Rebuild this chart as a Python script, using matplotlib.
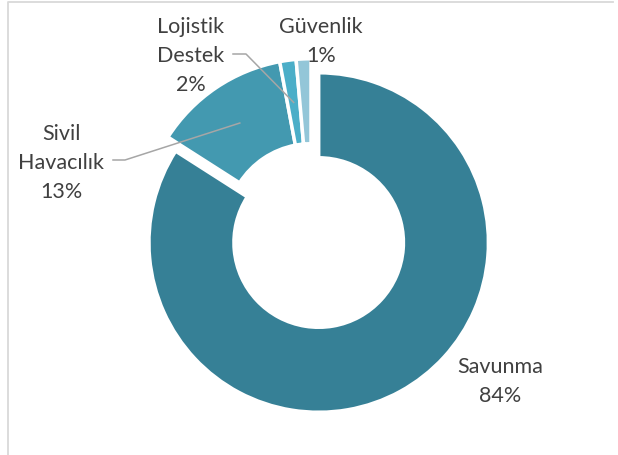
import numpy as np
import matplotlib.pyplot as plt

# doughnut data (share of total, %)
labels = ['Savunma', 'Sivil\nHavacılık', 'Lojistik\nDestek', 'Güvenlik']
values = [84.05, 13.0, 1.55, 1.4]
colors = ['#368096', '#4399B0', '#4BAEC8', '#93C6D8']

W, H = 618, 455
fig = plt.figure(figsize=(W / 100, H / 100), dpi=100)
ax = fig.add_axes([0, 0, 1, 1])

R = 169.75
ring = 85
cx, cy = 311, H - 228.5

wedges, _ = ax.pie(values, colors=colors, startangle=90, counterclock=False,
                   radius=R, center=(cx, cy), explode=[16, 0, 0, 0],
                   wedgeprops=dict(width=ring, edgecolor='white', linewidth=2.5))

ax.set_xlim(0, W)
ax.set_ylim(0, H)
ax.set_aspect('equal')
ax.axis('off')

# chart area border (only top/left visible)
ax.plot([7.5, 7.5, 613], [0, H - 1.5, H - 1.5], color='#D9D9D9', lw=1.3, clip_on=False)

txt = dict(fontsize=15.5, color='#404040', family=['Lato', 'DejaVu Sans'], ha='center', va='baseline')
step = 29
label_pos = [(500, 373), (61, 140), (191, 33), (321, 33)]
for w, lab, v, (x, y) in zip(wedges, labels, values, label_pos):
    lines = lab.split('\n') + [f'{v:.0f}%']
    for i, line in enumerate(lines):
        ax.text(x, H - y - i * step, line, **txt)


def tip(w):
    a = np.radians((w.theta1 + w.theta2) / 2)
    r = w.r - w.width / 2
    return w.center[0] + r * np.cos(a), w.center[1] + r * np.sin(a)


# leader lines
lc = dict(color='#A6A6A6', lw=1.1)
tx, ty = tip(wedges[1])
ax.plot([113, 125, tx], [H - 160, H - 160, ty], **lc)
tx, ty = tip(wedges[2])
ax.plot([233, 246, tx], [H - 54, H - 54, ty], **lc)

fig.savefig('out.png', dpi=100, facecolor='white')
